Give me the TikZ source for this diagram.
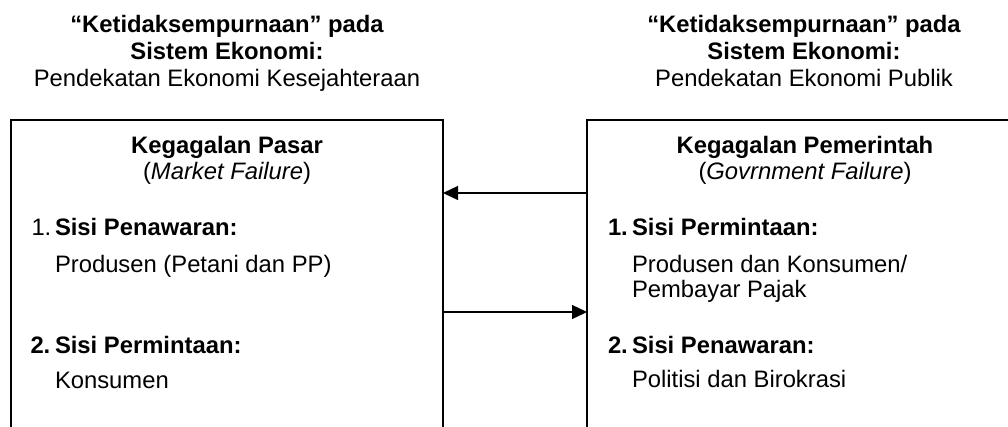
\documentclass[tikz,border=0pt]{standalone}
\usepackage{fontspec}
\setmainfont{Liberation Sans}
\usetikzlibrary{arrows.meta}
\begin{document}
\begin{tikzpicture}[x=1pt,y=-1pt,
  txt/.style={inner sep=0pt, outer sep=0pt, font=\fontsize{23.8}{27}\selectfont},
  hd/.style={txt, anchor=base},
  itm/.style={txt, anchor=base west},
  panel/.style={draw, line width=1.3pt, inner sep=0pt, outer sep=0pt, anchor=north west,
    minimum width=432pt, minimum height=340pt},
  conn/.style={line width=1.3pt, -{Triangle[length=15pt,width=14pt]}}]
\useasboundingbox (0,0) rectangle (1008,426);
\clip (0,0) rectangle (1008,426);
% headers
\node[hd] (hl1) at (227,32) {\bfseries “Ketidaksempurnaan” pada};
\node[hd] (hl2) at (227,59) {\bfseries Sistem Ekonomi:};
\node[hd] (hl3) at (227,86) {Pendekatan Ekonomi Kesejahteraan};
\node[hd] (hr1) at (804,32) {\bfseries “Ketidaksempurnaan” pada};
\node[hd] (hr2) at (804,59) {\bfseries Sistem Ekonomi:};
\node[hd] (hr3) at (804,86) {Pendekatan Ekonomi Publik};
% panels
\node[panel] (lbox) at (11,120) {};
\node[panel] (rbox) at (587,120) {};
% left panel text
\node[hd] (lt1) at (227,153) {\bfseries Kegagalan Pasar};
\node[hd] (lt2) at (227,179) {(\textit{Market Failure})};
\node[itm] (ln1) at (31.5,235) {1.};
\node[itm] (ls1) at (55,235) {\bfseries Sisi Penawaran:};
\node[itm] (lb1) at (55,272) {Produsen (Petani dan PP)};
\node[itm] (ln2) at (30.5,353) {\bfseries 2.};
\node[itm] (ls2) at (55,353) {\bfseries Sisi Permintaan:};
\node[itm] (lb2) at (55,388) {Konsumen};
% right panel text
\node[hd] (rt1) at (805,153) {\bfseries Kegagalan Pemerintah};
\node[hd] (rt2) at (805,179) {(\textit{Govrnment Failure})};
\node[itm] (rn1) at (608,235) {\bfseries 1.};
\node[itm] (rs1) at (632,235) {\bfseries Sisi Permintaan:};
\node[itm] (rb1) at (632,272) {Produsen dan Konsumen/};
\node[itm] (rb1b) at (632,297) {Pembayar Pajak};
\node[itm] (rn2) at (608,353) {\bfseries 2.};
\node[itm] (rs2) at (632,353) {\bfseries Sisi Penawaran:};
\node[itm] (rb2) at (632,387) {Politisi dan Birokrasi};
% connectors
\coordinate (ya) at (0,193);
\coordinate (yb) at (0,312);
\draw[conn] (rbox.west |- ya) -- (lbox.east |- ya);
\draw[conn] (lbox.east |- yb) -- (rbox.west |- yb);
\end{tikzpicture}
\end{document}
